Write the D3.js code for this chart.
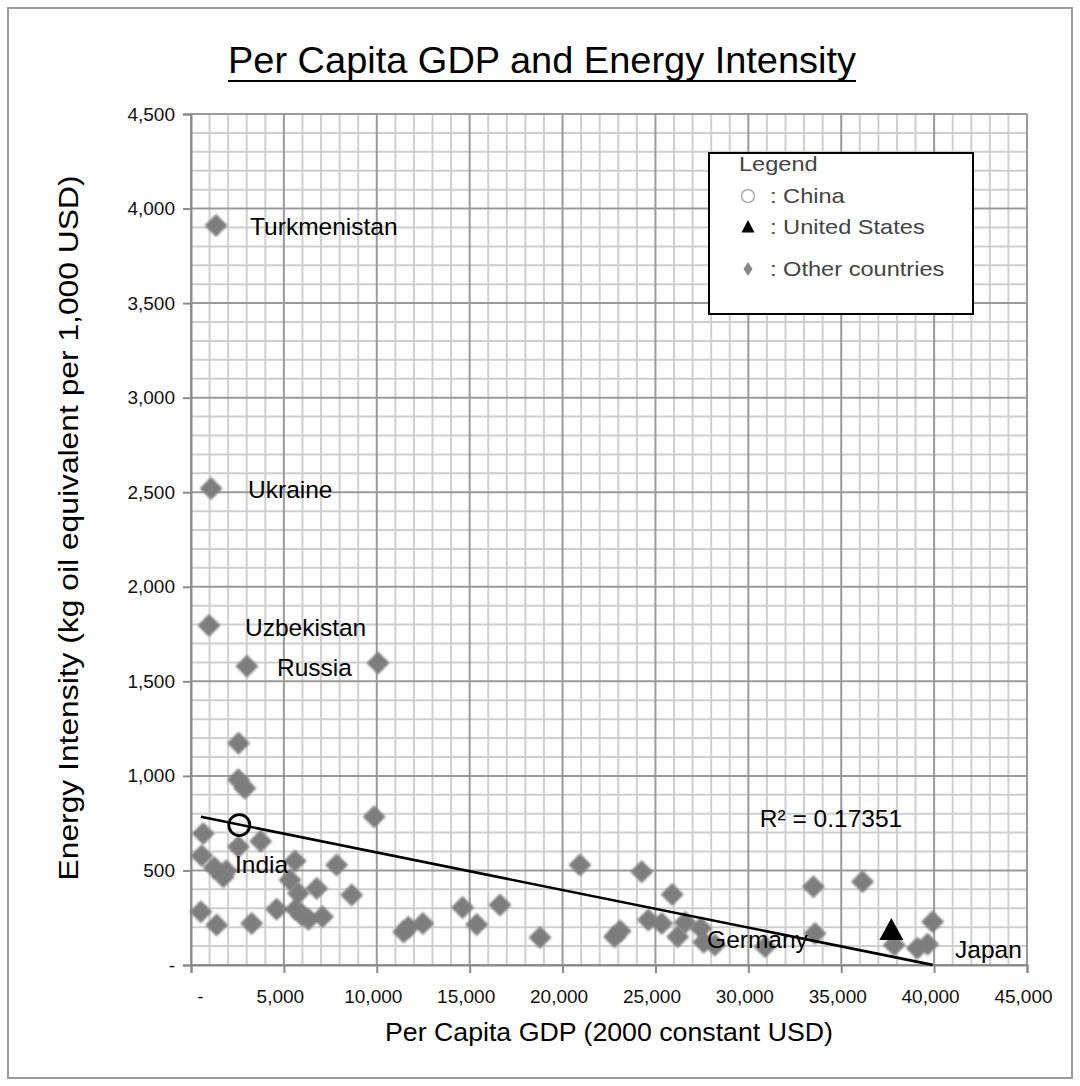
<!DOCTYPE html>
<html>
<head>
<meta charset="utf-8">
<script src="https://cdn.jsdelivr.net/npm/d3@7"></script>
<style>
  html, body { margin: 0; padding: 0; background: #fff; }
  svg { display: block; font-family: "Liberation Sans", Arial, sans-serif; }
</style>
</head>
<body>
<svg id="chart" width="1080" height="1086"></svg>
<script>
// ---------------- DATA ----------------
const chartTitle = "Per Capita GDP and Energy Intensity";
const xAxisTitle = "Per Capita GDP (2000 constant USD)";
const yAxisTitle = "Energy Intensity  (kg oil equivalent per 1,000 USD)";

const xTicks = [0, 5000, 10000, 15000, 20000, 25000, 30000, 35000, 40000, 45000];
const yTicks = [0, 500, 1000, 1500, 2000, 2500, 3000, 3500, 4000, 4500];

// Other countries: [per capita GDP, energy intensity]
const otherGDP = [1350, 1080, 970, 3010, 10070, 2560, 2550, 2900, 660, 3750, 2550, 580, 1250, 1900, 1740,
  5600, 7840, 5330, 5780, 6770, 8650, 9860, 530, 1380, 3270, 4610, 5640, 6320, 7080, 5960,
  11450, 11700, 12480, 14620, 15380, 16630, 18790, 20940, 24260, 25900, 22800, 23100, 24620, 25340,
  26200, 26600, 27450, 27600, 28200, 30900, 33500, 36150, 33590, 37850, 39100, 39650, 39920];
const otherEI = [3910, 2520, 1795, 1580, 1597, 1172, 980, 935, 696, 655, 625, 578, 515, 498, 467,
  550, 529, 449, 379, 405, 370, 784, 282, 212, 220, 295, 295, 242, 255, 264,
  175, 200, 220, 304, 214, 317, 145, 529, 493, 373, 150, 180, 238, 220,
  150, 225, 194, 120, 106, 97, 414, 440, 167, 106, 88, 110, 229];

const chinaPoint = [2600, 740];
const usPoint = [37700, 185];

// Linear trendline
const trendIntercept = 794;
const trendSlope = -0.01987;
const rSquaredText = "R² = 0.17351";

// Annotation labels: text, gdp at text start, energy intensity at text middle
const labelTexts = ["Turkmenistan", "Ukraine", "Uzbekistan", "Russia", "India", "Germany", "Japan"];
const labelGDP = [3180, 3070, 2910, 4630, 2370, 27780, 41130];
const labelEI = [3908, 2517, 1787, 1576, 534, 137, 85];

const legendItems = ["Legend", ": China", ": United States", ": Other countries"];

// ---------------- LAYOUT ----------------
const svg = d3.select("#chart");
const plot = { left: 191, right: 1027, top: 114, bottom: 965 };

const x = d3.scaleLinear().domain([0, 45000]).range([plot.left, plot.right]);
const y = d3.scaleLinear().domain([0, 4500]).range([plot.bottom, plot.top]);

// outer border
svg.append("rect").attr("x", 8).attr("y", 8).attr("width", 1064).attr("height", 1070)
  .attr("fill", "#fff").attr("stroke", "#9a9a9a").attr("stroke-width", 2);

// title
svg.append("text").attr("x", 542).attr("y", 73).attr("text-anchor", "middle")
  .attr("font-size", 36).attr("fill", "#000")
  .attr("textLength", 628).attr("lengthAdjust", "spacingAndGlyphs").text(chartTitle);
svg.append("line").attr("x1", 228).attr("x2", 856).attr("y1", 81).attr("y2", 81)
  .attr("stroke", "#000").attr("stroke-width", 2.2);

// gridlines
const g = svg.append("g");
const minorX = d3.range(0, 45001, 1000).filter(v => v % 5000 !== 0);
const minorY = d3.range(0, 4501, 100).filter(v => v % 500 !== 0);
g.selectAll(".mx").data(minorX).join("line")
  .attr("x1", d => x(d)).attr("x2", d => x(d)).attr("y1", plot.top).attr("y2", plot.bottom)
  .attr("stroke", "#cfcfcf").attr("stroke-width", 2);
g.selectAll(".my").data(minorY).join("line")
  .attr("y1", d => y(d)).attr("y2", d => y(d)).attr("x1", plot.left).attr("x2", plot.right)
  .attr("stroke", "#cfcfcf").attr("stroke-width", 2);
g.selectAll(".Mx").data(xTicks).join("line")
  .attr("x1", d => x(d)).attr("x2", d => x(d)).attr("y1", plot.top).attr("y2", plot.bottom)
  .attr("stroke", "#9a9a9a").attr("stroke-width", 2);
g.selectAll(".My").data(yTicks).join("line")
  .attr("y1", d => y(d)).attr("y2", d => y(d)).attr("x1", plot.left).attr("x2", plot.right)
  .attr("stroke", "#9a9a9a").attr("stroke-width", 2);

// axes
const fmt = d => d === 0 ? "-" : d3.format(",")(d);
const xAxis = svg.append("g").attr("transform", `translate(0,${plot.bottom})`)
  .call(d3.axisBottom(x).tickValues(xTicks).tickFormat(fmt).tickSize(8).tickPadding(17));
const yAxis = svg.append("g").attr("transform", `translate(${plot.left},0)`)
  .call(d3.axisLeft(y).tickValues(yTicks).tickFormat(fmt).tickSize(8).tickPadding(8));
[xAxis, yAxis].forEach(a => {
  a.select(".domain").attr("stroke", "#8a8a8a").attr("stroke-width", 2);
  a.selectAll(".tick line").attr("stroke", "#8a8a8a").attr("stroke-width", 2);
  a.selectAll(".tick text").attr("font-size", 19).attr("fill", "#111")
    .attr("font-family", "'Liberation Sans', Arial, sans-serif");
});
xAxis.selectAll(".tick text").attr("dx", d => d === 0 ? 9 : -4);

// axis titles
svg.append("text").attr("x", 609).attr("y", 1041).attr("text-anchor", "middle")
  .attr("font-size", 26).attr("fill", "#000")
  .attr("textLength", 448).attr("lengthAdjust", "spacingAndGlyphs").text(xAxisTitle);
svg.append("text").attr("transform", "translate(78,528) rotate(-90)").attr("text-anchor", "middle")
  .attr("font-size", 27).attr("fill", "#000")
  .attr("textLength", 705).attr("lengthAdjust", "spacingAndGlyphs").text(yAxisTitle);

// legend
const lg = svg.append("g");
lg.append("rect").attr("x", 709).attr("y", 153).attr("width", 264).attr("height", 161)
  .attr("fill", "#fff").attr("stroke", "#000").attr("stroke-width", 2);
const legY = [164, 196, 227, 269];
const legX = [739, 770, 770, 770];
lg.selectAll("text").data(legendItems).join("text")
  .attr("transform", (d, i) => `translate(${legX[i]},${legY[i]}) scale(1.18,1)`)
  .attr("dy", "0.35em")
  .attr("font-size", 20).attr("fill", "#444").text(d => d);
lg.append("circle").attr("cx", 748).attr("cy", legY[1]).attr("r", 6.5)
  .attr("fill", "none").attr("stroke", "#aaa").attr("stroke-width", 1.5);
lg.append("path").attr("d", "M0,-7L6.5,5.5L-6.5,5.5Z").attr("transform", `translate(748,${legY[2]})`)
  .attr("fill", "#000");
lg.append("path").attr("d", "M0,-7L4.5,0L0,7L-4.5,0Z").attr("transform", `translate(748,${legY[3]})`)
  .attr("fill", "#888");

// blur filter for soft markers
const defs = svg.append("defs");
defs.append("filter").attr("id", "soft").append("feGaussianBlur").attr("stdDeviation", 0.9);

// other countries (diamonds)
const others = otherGDP.map((v, i) => ({ gdp: v, ei: otherEI[i] }));
svg.append("g").selectAll("path").data(others).join("path")
  .attr("d", "M0,-11.5L11.5,0L0,11.5L-11.5,0Z")
  .attr("transform", d => `translate(${x(d.gdp)},${y(d.ei)})`)
  .attr("fill", "#7d7d7d").attr("filter", "url(#soft)");

// trendline
const xMin = d3.min(otherGDP.concat([chinaPoint[0], usPoint[0]]));
const xMax = d3.max(otherGDP.concat([chinaPoint[0], usPoint[0]]));
const trend = [xMin, xMax].map(v => [v, trendIntercept + trendSlope * v]);
svg.append("path").attr("d", d3.line().x(d => x(d[0])).y(d => y(d[1]))(trend))
  .attr("stroke", "#000").attr("stroke-width", 2.6).attr("fill", "none");

// China
svg.append("circle").attr("cx", x(chinaPoint[0])).attr("cy", y(chinaPoint[1])).attr("r", 10.5)
  .attr("fill", "none").attr("stroke", "#000").attr("stroke-width", 2.8);
// United States
svg.append("path").attr("d", "M0,-12L12,10L-12,10Z")
  .attr("transform", `translate(${x(usPoint[0])},${y(usPoint[1])})`).attr("fill", "#000");

// annotation labels
svg.append("g").selectAll("text").data(labelTexts).join("text")
  .attr("x", (d, i) => x(labelGDP[i])).attr("y", (d, i) => y(labelEI[i])).attr("dy", "0.35em")
  .attr("font-size", 24.5).attr("fill", "#000").text(d => d);

svg.append("text").attr("x", x(30620)).attr("y", y(775)).attr("dy", "0.35em")
  .attr("font-size", 24.5).attr("fill", "#000").text(rSquaredText);
</script>
</body>
</html>
